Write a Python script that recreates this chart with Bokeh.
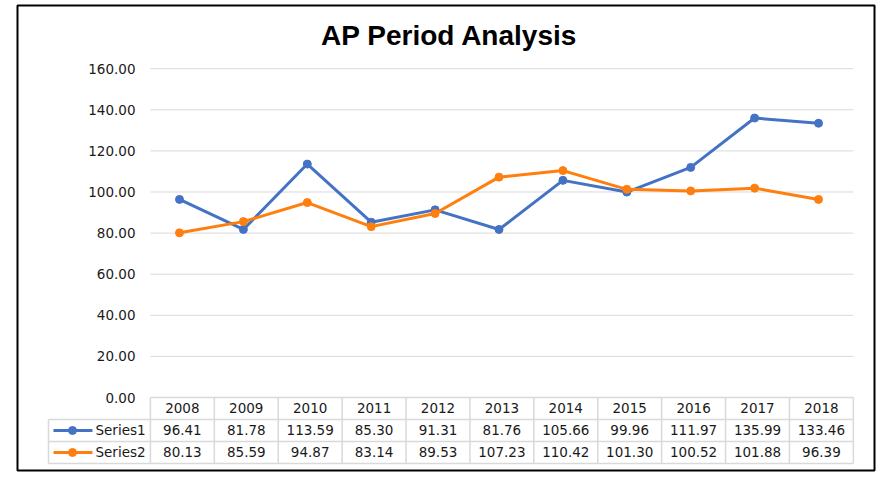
from bokeh.plotting import figure
from bokeh.models import Range1d, ColumnDataSource
from bokeh.core.properties import value
from bokeh.embed import file_html
from bokeh.resources import INLINE

# ---------------- data ----------------
chart_title = "AP Period Analysis"
years = ["2008", "2009", "2010", "2011", "2012", "2013", "2014", "2015", "2016", "2017", "2018"]
series1 = [96.41, 81.78, 113.59, 85.30, 91.31, 81.76, 105.66, 99.96, 111.97, 135.99, 133.46]
series2 = [80.13, 85.59, 94.87, 83.14, 89.53, 107.23, 110.42, 101.30, 100.52, 101.88, 96.39]
series_names = ["Series1", "Series2"]
y_ticks = [0, 20, 40, 60, 80, 100, 120, 140, 160]

# ---------------- styles ----------------
BLUE = "#4472C4"
ORANGE = "#FF7F0E"
GRID = "#d9d9d9"
TXT = "#1a1a1a"
FONT = value("DejaVu Sans")
FSIZE = "13.5px"

xs = list(range(len(years)))

p = figure(width=885, height=478, output_backend="svg", toolbar_location=None,
           x_axis_location=None, y_axis_location=None,
           x_range=Range1d(-2.535, 10.876), y_range=Range1d(-35.52, 190.75),
           min_border_left=17, min_border_right=11, min_border_top=5, min_border_bottom=8)
p.grid.visible = False
p.outline_line_color = "black"
p.outline_line_width = 2
p.background_fill_color = "white"
p.border_fill_color = "white"

# table geometry (in data units)
col_off = 0.045
col_edges = [k - 0.5 + col_off for k in range(len(years) + 1)]
legend_left = -2.05
row_edges = [0, -10.7, -21.4, -32.1]
row_centers = [(row_edges[i] + row_edges[i + 1]) / 2 for i in range(3)]

# horizontal gridlines
p.segment(x0=[col_edges[0]] * len(y_ticks), x1=[col_edges[-1]] * len(y_ticks),
          y0=y_ticks, y1=y_ticks, line_color=GRID, line_width=1)

# y tick labels
p.text(x=[-0.689] * len(y_ticks), y=y_ticks, text=[f"{t:.2f}" for t in y_ticks],
       text_align="right", text_baseline="middle", text_font=FONT,
       text_font_size=FSIZE, text_color=TXT)

# title
p.text(x=[4.225], y=[176.0], text=[chart_title], text_align="center", text_baseline="middle",
       text_font=value("Liberation Sans"), text_font_style="bold", text_font_size="28px",
       text_color="black")

# data table lines
hx0 = [col_edges[0]] + [legend_left] * 3
hx1 = [col_edges[-1]] * 4
p.segment(x0=hx0, x1=hx1, y0=row_edges, y1=row_edges, line_color=GRID, line_width=1.5)
p.segment(x0=col_edges, x1=col_edges, y0=[row_edges[0]] * len(col_edges),
          y1=[row_edges[-1]] * len(col_edges), line_color=GRID, line_width=1.5)
p.segment(x0=[legend_left], x1=[legend_left], y0=[row_edges[1]], y1=[row_edges[-1]],
          line_color=GRID, line_width=1.5)

cx = [x + col_off for x in xs]
p.text(x=cx, y=[row_centers[0]] * len(years), text=years, text_align="center",
       text_baseline="middle", text_font=FONT, text_font_size=FSIZE, text_color=TXT)
for r, (vals, name, col) in enumerate(zip([series1, series2], series_names, [BLUE, ORANGE])):
    yc = row_centers[r + 1]
    p.text(x=cx, y=[yc] * len(vals), text=[f"{v:.2f}" for v in vals], text_align="center",
           text_baseline="middle", text_font=FONT, text_font_size=FSIZE, text_color=TXT)
    # legend key
    p.line(x=[-1.972, -1.362], y=[yc, yc], line_color=col, line_width=3)
    p.scatter(x=[-1.674], y=[yc], size=8, fill_color=col, line_color=col)
    p.text(x=[-1.315], y=[yc], text=[name], text_align="left", text_baseline="middle",
           text_font=FONT, text_font_size=FSIZE, text_color=TXT)

# series lines
for vals, col in zip([series1, series2], [BLUE, ORANGE]):
    src = ColumnDataSource(dict(x=xs, y=vals))
    p.line("x", "y", source=src, line_color=col, line_width=3)
    p.scatter("x", "y", source=src, size=8, fill_color=col, line_color=col)

open("out.html", "w").write(file_html(p, INLINE))
